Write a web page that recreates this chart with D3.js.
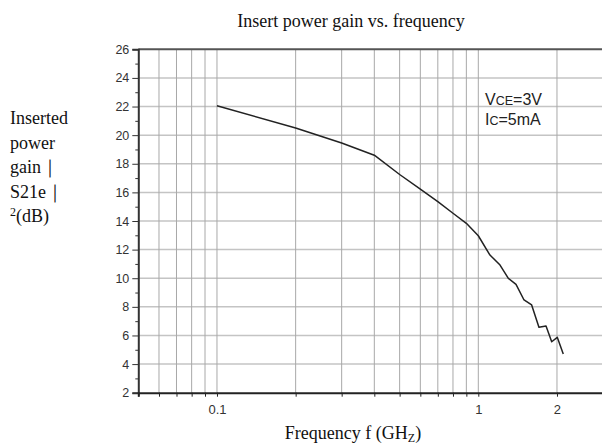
<!DOCTYPE html>
<html>
<head>
<meta charset="utf-8">
<script src="https://cdn.jsdelivr.net/npm/d3@7"></script>
<style>
  html, body { margin: 0; padding: 0; background: #fff; }
  svg { display: block; }
</style>
</head>
<body>
<svg id="chart" width="602" height="444"></svg>
<script>
// ---- data ----
const freqGHz = [0.1, 0.2, 0.3, 0.4, 0.5, 0.6, 0.7, 0.8, 0.9, 1.0, 1.108, 1.211, 1.303, 1.394, 1.496, 1.6, 1.706, 1.816, 1.909, 2.005, 2.114];
const gainDB  = [22.05, 20.5, 19.45, 18.6, 17.25, 16.23, 15.35, 14.54, 13.84, 12.97, 11.62, 10.92, 9.99, 9.57, 8.48, 8.13, 6.57, 6.66, 5.56, 5.87, 4.7];
const yTicks = [2, 4, 6, 8, 10, 12, 14, 16, 18, 20, 22, 24, 26];
const yMinorTicks = [3, 5, 7, 9, 11, 13, 15, 17, 19, 21, 23, 25];
const xGridTicks = [0.06, 0.07, 0.08, 0.09, 0.1, 0.2, 0.3, 0.4, 0.5, 0.6, 0.7, 0.8, 0.9, 1, 2];
const xAllTicks = [0.05, 0.06, 0.07, 0.08, 0.09, 0.1, 0.2, 0.3, 0.4, 0.5, 0.6, 0.7, 0.8, 0.9, 1, 2, 3];
const xLabelTicks = [0.1, 1, 2];
const titleText = "Insert power gain vs. frequency";
const yLabelLines = ["Inserted", "power", "gain｜", "S21e｜"];

(function () {
const svg = d3.select("#chart");
const pL = 138.3, pR = 603, pT = 49.3, pB = 392.7;

const x = d3.scaleLog().domain([0.05, 3]).range([pL, pR]);
const y = d3.scaleLinear().domain([2, 26]).range([pB, pT]);

// grid
const grid = svg.append("g");
grid.selectAll("line.hg").data(yTicks.filter(d => d > 2 && d < 26)).join("line")
  .attr("x1", pL).attr("x2", 602)
  .attr("y1", d => y(d)).attr("y2", d => y(d))
  .attr("stroke", "#c4c4c4").attr("stroke-width", 1.5);
grid.selectAll("line.vg").data(xGridTicks).join("line")
  .attr("x1", d => x(d)).attr("x2", d => x(d))
  .attr("y1", pT).attr("y2", pB)
  .attr("stroke", "#a8a8a8").attr("stroke-width", 1);

// top border
svg.append("line").attr("x1", pL).attr("x2", 602).attr("y1", pT).attr("y2", pT)
  .attr("stroke", "#555").attr("stroke-width", 2);

// y axis
const yAxis = d3.axisLeft(y).tickValues(yTicks).tickSize(6).tickPadding(3).tickFormat(d3.format("d"));
const gy = svg.append("g").attr("transform", `translate(${pL},0)`).call(yAxis);
gy.select(".domain").attr("stroke", "#333").attr("stroke-width", 2);
gy.selectAll(".tick line").attr("stroke", "#333");
gy.selectAll(".tick text").attr("font-family", "'Liberation Sans', Arial, sans-serif").attr("font-size", 12.5).attr("fill", "#333");
const yMinor = d3.axisLeft(y).tickValues(yMinorTicks).tickSize(3).tickFormat("");
const gym = svg.append("g").attr("transform", `translate(${pL},0)`).call(yMinor);
gym.select(".domain").remove();
gym.selectAll(".tick line").attr("stroke", "#333");

// x axis
const xAxis = d3.axisBottom(x).tickValues(xAllTicks).tickSize(4).tickPadding(8)
  .tickFormat(d => xLabelTicks.includes(d) ? String(d) : "");
const gx = svg.append("g").attr("transform", `translate(0,${pB})`).call(xAxis);
gx.select(".domain").attr("stroke", "#222").attr("stroke-width", 2);
gx.selectAll(".tick line").attr("stroke", "#222");
gx.selectAll(".tick text").attr("font-family", "'Liberation Sans', Arial, sans-serif").attr("font-size", 13).attr("fill", "#333");

// curve
const line = d3.line().x((d, i) => x(freqGHz[i])).y(d => y(d));
svg.append("path").datum(gainDB).attr("d", line)
  .attr("fill", "none").attr("stroke", "#222").attr("stroke-width", 1.5)
  .attr("stroke-linejoin", "round");

// legend
const leg = svg.append("g").attr("font-family", "'Liberation Sans', Arial, sans-serif").attr("fill", "#222");
const t1 = leg.append("text").attr("x", 485).attr("y", 105).attr("font-size", 16);
t1.append("tspan").text("V");
t1.append("tspan").attr("font-size", 12.5).text("CE");
t1.append("tspan").text("=3V");
const t2 = leg.append("text").attr("x", 485).attr("y", 125).attr("font-size", 16);
t2.append("tspan").text("I");
t2.append("tspan").attr("font-size", 12.5).text("C");
t2.append("tspan").text("=5mA");

// title
svg.append("text").attr("x", 351).attr("y", 26.5).attr("text-anchor", "middle")
  .attr("font-family", "'Liberation Serif', 'Times New Roman', serif").attr("font-size", 18)
  .attr("fill", "#111").text(titleText);

// x label
const xl = svg.append("text").attr("x", 353).attr("y", 439).attr("text-anchor", "middle")
  .attr("font-family", "'Liberation Serif', 'Times New Roman', serif").attr("font-size", 18).attr("fill", "#111");
xl.append("tspan").text("Frequency f (GH");
xl.append("tspan").attr("font-size", 12).attr("dy", 3).text("Z");
xl.append("tspan").attr("dy", -3).text(")");

// y label
const yl = svg.append("g").attr("font-family", "'Liberation Serif', 'Times New Roman', serif")
  .attr("font-size", 18).attr("fill", "#111");
yLabelLines.forEach((s, i) => {
  yl.append("text").attr("x", 10).attr("y", 124 + i * 24.5).text(s);
});
const last = yl.append("text").attr("x", 10).attr("y", 124 + 4 * 24.5);
last.append("tspan").attr("font-size", 12).attr("dy", -6).text("2");
last.append("tspan").attr("dy", 6).text("(dB)");
})();
</script>
</body>
</html>
